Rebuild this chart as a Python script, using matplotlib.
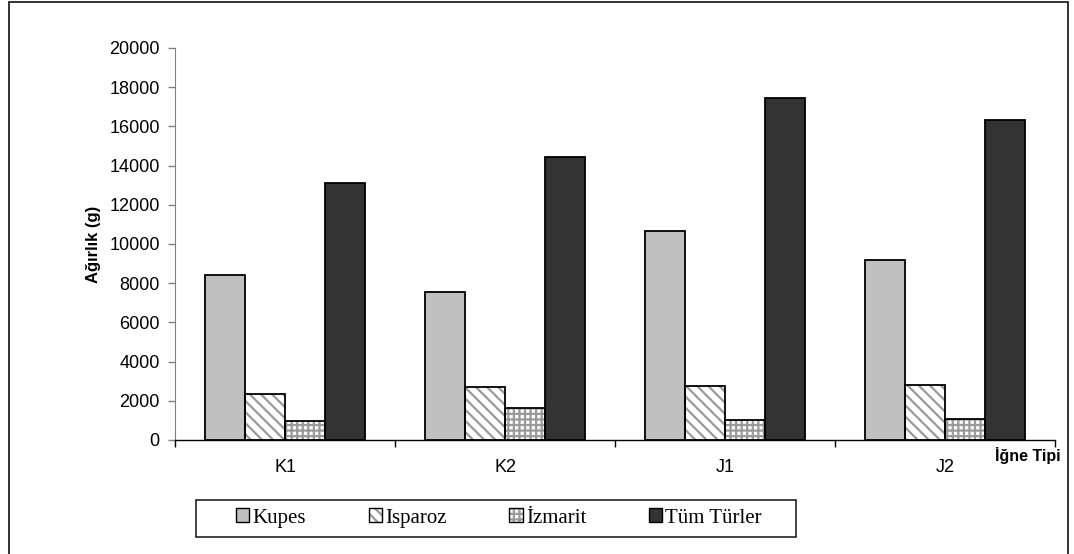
import matplotlib
matplotlib.use("Agg")
import matplotlib.pyplot as plt
import numpy as np
from matplotlib.patches import Rectangle, Patch
from matplotlib.legend_handler import HandlerTuple

categories = ["K1", "K2", "J1", "J2"]
series_names = ["Kupes", "Isparoz", "İzmarit", "Tüm Türler"]
kupes = [8400, 7550, 10650, 9200]
isparoz = [2350, 2700, 2780, 2830]
izmarit = [950, 1630, 1020, 1060]
tum_turler = [13100, 14450, 17450, 16320]
yticks = [0, 2000, 4000, 6000, 8000, 10000, 12000, 14000, 16000, 18000, 20000]

plt.rcParams["hatch.linewidth"] = 1.6

values = [kupes, isparoz, izmarit, tum_turler]
faces = ["#c0c0c0", "white", "white", "#333333"]
hatches = [None, "\\\\\\", "+++", None]

fig = plt.figure(figsize=(10.74, 5.54), dpi=100)
W, H = 1074, 554
ax = fig.add_axes([175 / W, 1 - 440 / H, 880 / W, 392 / H])

x = np.arange(len(categories))
w = 40 / 220
for i, (vals, fc, ht) in enumerate(zip(values, faces, hatches)):
    pos = x + (i - 1.5) * w
    if ht:
        ax.bar(pos, vals, w, color=fc, hatch=ht, edgecolor="#9a9a9a", linewidth=0, zorder=2)
        ax.bar(pos, vals, w, fill=False, edgecolor="black", linewidth=1.3, zorder=3)
    else:
        ax.bar(pos, vals, w, color=fc, edgecolor="black", linewidth=1.3, zorder=3)

ax.set_xlim(-0.5, 3.5)
ax.set_ylim(0, 20000)
ax.set_yticks(yticks)
ax.set_yticklabels([str(v) for v in yticks], fontsize=13, family="Liberation Sans")
ax.set_xticks(x)
ax.set_xticklabels(categories, fontsize=13, family="Liberation Sans")
ax.tick_params(axis="x", length=0, pad=14)
ax.set_xticks(np.arange(-0.5, 4.0, 1.0), minor=True)
ax.tick_params(axis="x", which="minor", length=5, color="black", width=1)
ax.tick_params(axis="y", length=5, color="#808080", width=1, pad=6)
for s in ["top", "right"]:
    ax.spines[s].set_visible(False)
ax.spines["left"].set_color("#808080")
ax.spines["bottom"].set_color("black")
ax.spines["bottom"].set_linewidth(1)

ax.set_ylabel("Ağırlık (g)", fontsize=12, fontweight="bold", family="Liberation Sans", labelpad=6)
fig.text(1061 / W, 1 - 455 / H, "İğne Tipi", fontsize=11.5, fontweight="bold",
         family="Liberation Sans", ha="right", va="center")

handles = []
for fc, ht in zip(faces, hatches):
    if ht:
        handles.append((Patch(facecolor=fc, edgecolor="#9a9a9a", hatch=ht, linewidth=0),
                        Patch(fill=False, edgecolor="black", linewidth=1)))
    else:
        handles.append(Patch(facecolor=fc, edgecolor="black", linewidth=1))
leg = fig.legend(handles, series_names, ncol=4, loc="center",
                 bbox_to_anchor=(499 / W, 1 - 518 / H),
                 handler_map={tuple: HandlerTuple(ndivide=1, pad=0)},
                 prop={"family": "Liberation Serif", "size": 15},
                 frameon=False,
                 handlelength=0.65, handleheight=0.65, handletextpad=0.15,
                 columnspacing=3.0, borderpad=0.3, borderaxespad=0)

fig.patches.append(Rectangle((196 / W, 1 - 537 / H), 600 / W, 37 / H,
                             transform=fig.transFigure, fill=False,
                             edgecolor="#222222", linewidth=1.2))
fig.patches.append(Rectangle((9 / W, -0.1), (1068 - 9) / W, 1.1 - 2 / H,
                             transform=fig.transFigure, fill=False,
                             edgecolor="#222222", linewidth=1.3))

fig.savefig("out.png", dpi=100)
